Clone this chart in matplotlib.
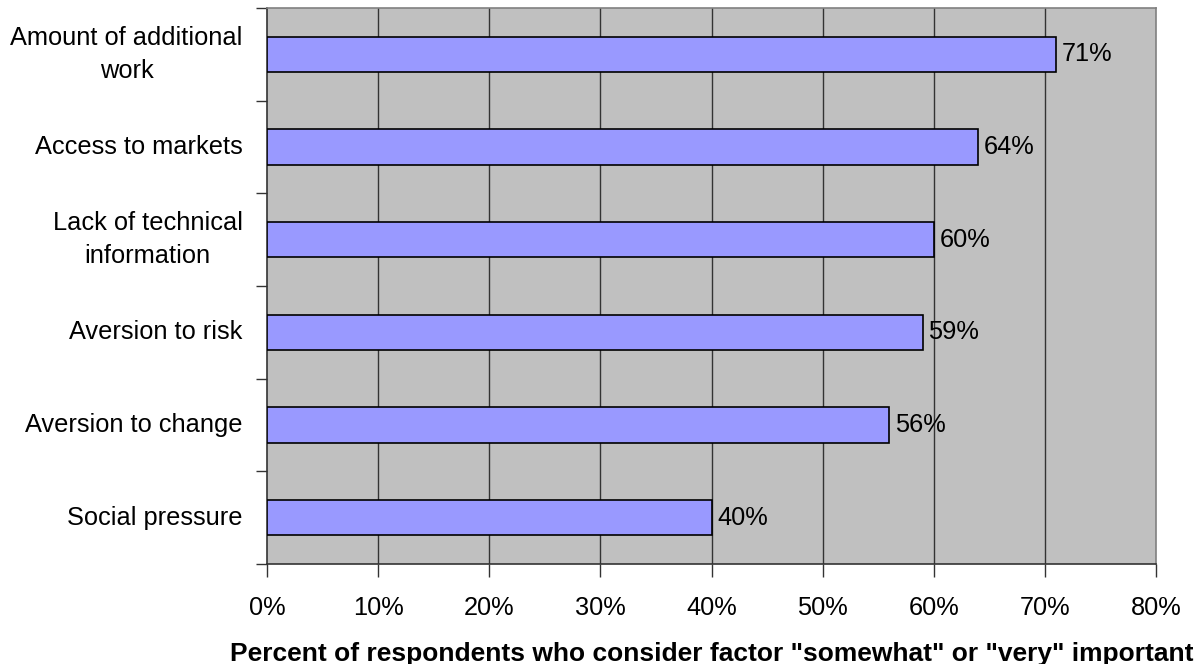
import matplotlib
matplotlib.use("Agg")
import matplotlib.pyplot as plt
import numpy as np

plt.rcParams['font.family'] = ['Liberation Sans', 'DejaVu Sans']

factors = [
    "Amount of additional\nwork",
    "Access to markets",
    "Lack of technical\ninformation",
    "Aversion to risk",
    "Aversion to change",
    "Social pressure",
]
shares = [71, 64, 60, 59, 56, 40]
x_ticks = [0, 10, 20, 30, 40, 50, 60, 70, 80]

fig = plt.figure(figsize=(12.02, 6.64), dpi=100)
ax = fig.add_axes([267 / 1202, 1 - 564 / 664, (1156 - 267) / 1202, (564 - 8) / 664])

n = len(factors)
pos = np.arange(n)[::-1]  # first factor at the top

ax.set_facecolor('#C0C0C0')
ax.set_xlim(0, 80)
ax.set_ylim(-0.5, n - 0.5)

for x in x_ticks[1:-1]:
    ax.axvline(x, color='#333333', linewidth=1.0, zorder=1)

ax.barh(pos, shares, height=0.38, color='#9999FF', edgecolor='black',
        linewidth=1.2, zorder=3)

fs = 18.3
for p, v in zip(pos, shares):
    ax.text(v + 0.5, p, f"{v}%", va='center', ha='left', fontsize=fs, zorder=4)

ax.set_xticks(x_ticks)
ax.set_xticklabels([f"{x}%" for x in x_ticks], fontsize=fs)
ax.tick_params(axis='x', direction='out', length=9, width=1, pad=14, color='#333333')

# Category ticks sit on the boundaries; labels sit at the bar centres
ax.set_yticks(np.arange(-0.5, n, 1.0))
ax.set_yticklabels([])
ax.tick_params(axis='y', direction='out', length=8, width=1, color='#333333')
for p, lab in zip(pos, factors):
    ax.annotate(lab, xy=(0, p), xycoords=('axes fraction', 'data'),
                xytext=(-17.5, 0), textcoords='offset points',
                ha='right', va='center', multialignment='center',
                fontsize=fs, linespacing=1.45)

ax.spines['left'].set_color('#333333')
ax.spines['bottom'].set_color('#333333')
ax.spines['top'].set_color('#808080')
ax.spines['right'].set_color('#808080')
for s in ax.spines.values():
    s.set_linewidth(1.2)

ax.set_xlabel('Percent of respondents who consider factor "somewhat" or "very" important',
              fontsize=19, fontweight='bold', labelpad=16)

fig.savefig('out.png', dpi=100)
